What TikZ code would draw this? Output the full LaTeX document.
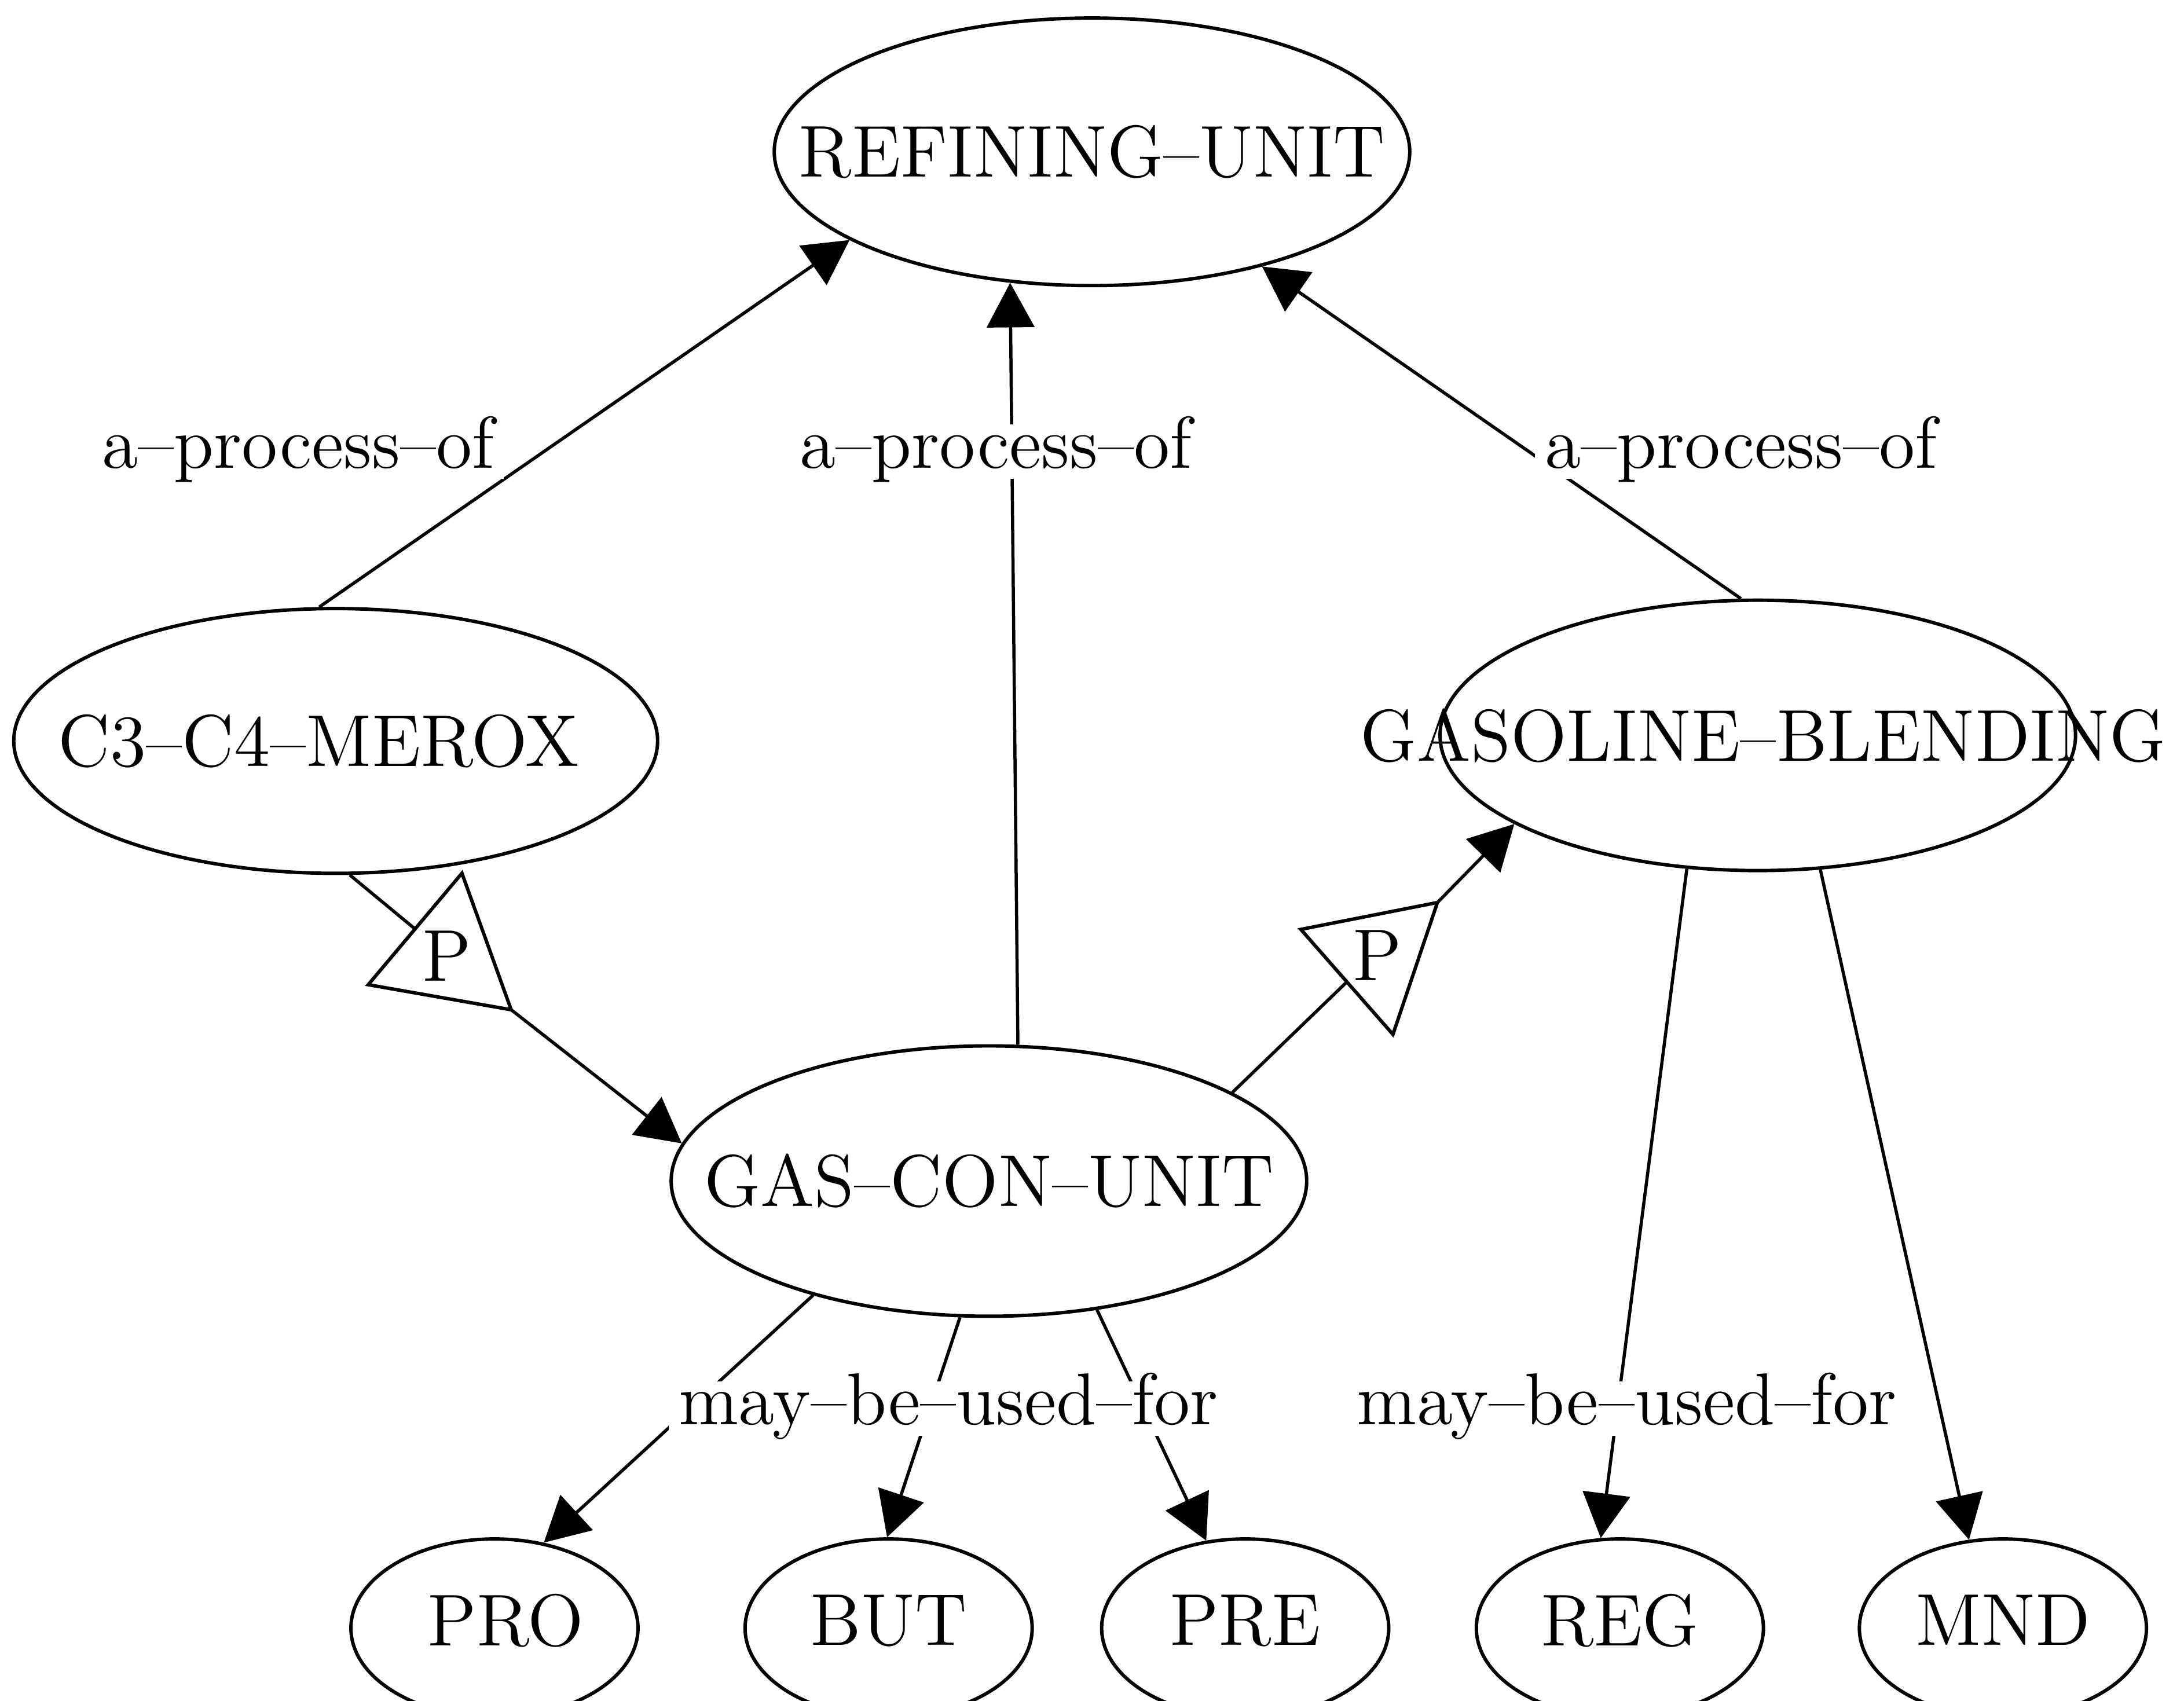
\documentclass[tikz,border=0pt]{standalone}
\usetikzlibrary{shapes.geometric,arrows.meta,calc}
% text set over a fixed-size ellipse; optional argument shifts it sideways (by half)
\newcommand{\overtext}[2][0pt]{\makebox[0pt]{\hspace*{#1}#2}}
\begin{document}
\begin{tikzpicture}[x=0.01cm,y=-0.01cm,
  every node/.style={font=\fontsize{14.99}{18}\selectfont},
  unit/.style={ellipse, draw, line width=0.7pt, inner sep=0pt},
  big/.style={unit, minimum width=4.56cm, minimum height=1.94cm},
  leaf/.style={unit, minimum width=2.06cm, minimum height=1.28cm, text depth=0.12cm},
  rel/.style={line width=0.65pt},
  link/.style={rel, -{Triangle[length=0.32cm,width=0.34cm]}},
  tag/.style={fill=white, inner xsep=2pt, inner ysep=0pt, text height=8.9pt, text depth=2.2pt, anchor=base},
  proc/.style={draw, line width=0.7pt, line join=miter}
]
\clip (0,0) rectangle (1568,1221);
\fill[white] (0,0) rectangle (1568,1221);

% units
\node[big, minimum height=1.92cm] (ru) at (784,109) {\overtext{REFINING--UNIT}};
\node[big, minimum width=4.62cm, minimum height=1.90cm] (c3) at (241,532) {\overtext[-0.24cm]{C3--C4--MEROX}};
\node[big] (gb) at (1262,528) {\overtext[0.08cm]{GASOLINE--BLENDING}};
\node[big] (gc) at (710,848) {\overtext{GAS--CON--UNIT}};

% products
\node[leaf] (pro) at (355,1169) {\overtext[0.16cm]{PRO}};
\node[leaf] (but) at (638,1169) {\overtext{BUT}};
\node[leaf] (pre) at (894,1169) {\overtext{PRE}};
\node[leaf] (reg) at (1163,1169) {\overtext{REG}};
\node[leaf] (mnd) at (1438,1169) {\overtext{MND}};

% process markers: base midpoint and apex of each triangle
\coordinate (p1b) at (298,667);
\coordinate (p1a) at (367,725);
\coordinate (p2b) at (967,705);
\coordinate (p2a) at (1032,648);
\draw[proc] (p1a) -- ($(p1b)!0.58!90:(p1a)$) -- ($(p1b)!0.58!-90:(p1a)$) -- cycle;
\draw[proc] (p2a) -- ($(p2b)!0.58!90:(p2a)$) -- ($(p2b)!0.58!-90:(p2a)$) -- cycle;
\node (p1) at ($(p1b)!0.3333!(p1a)$) {P};
\node (p2) at ($(p2b)!0.3333!(p2a)$) {P};

% process flow
\draw[rel] (c3.-84.6) -- (p1b);
\draw[link] (p1a) -- (gc.173.2);
\draw[rel] (gc.20.7) -- (p2b);
\draw[link] (p2a) -- (gb.200.1);

% a-process-of
\draw[link] (c3.97.8) -- (ru.200.1);
\draw[link] (gc.78.5) -- (ru.-122);
\draw[link] (gb.97.2) -- (ru.-34.1);

% may-be-used-for
\draw[link] (gc.213.4) -- (pro.60.5);
\draw[link] (gc.-102.1) -- (but.91.7);
\draw[link] (gc.-50.7) -- (pre.114);
\draw[link] (gb.-118) -- (reg.102.2);
\draw[link] (gb.-65.4) -- (mnd.111);

% relation names
\node[tag] (l1) at (214,336) {a--process--of};
\node[tag] (l2) at (715,336) {a--process--of};
\node[tag] (l3) at (1250,336) {a--process--of};
\node[tag] (l4) at (681,1023) {may--be--used--for};
\node[tag] (l5) at (1168,1023) {may--be--used--for};
\end{tikzpicture}
\end{document}
